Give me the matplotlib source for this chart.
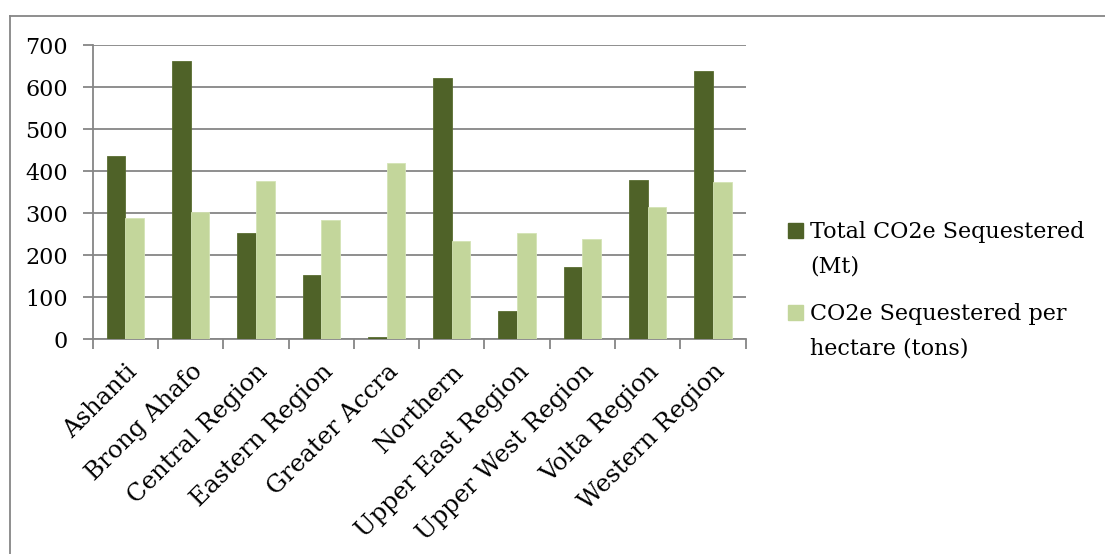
import matplotlib.pyplot as plt
from matplotlib.lines import Line2D
from matplotlib.patches import Rectangle
import numpy as np

regions = ['Ashanti', 'Brong Ahafo', 'Central Region', 'Eastern Region',
           'Greater Accra', 'Northern', 'Upper East Region',
           'Upper West Region', 'Volta Region', 'Western Region']
total_mt = [437, 662, 254, 153, 5, 622, 67, 172, 378, 639]
per_hectare = [288, 302, 377, 285, 420, 233, 253, 238, 315, 375]

dark = '#4f6228'
light = '#c3d69b'
grid_col = '#868686'

plt.rcParams['font.family'] = ['DejaVu Serif']

W, H = 1105, 554
fig = plt.figure(figsize=(W / 100, H / 100), dpi=100)
ax = fig.add_axes([0.0839, 0.388, 0.5909, 0.530])

x = np.arange(len(regions))
w = 1 / 3.5
ax.bar(x - w/2, total_mt, w, color=dark, edgecolor='#5a6e32', linewidth=0.6, zorder=3)
ax.bar(x + w/2, per_hectare, w, color=light, edgecolor='#d4e3b5', linewidth=0.6, zorder=3)

ax.set_xlim(-0.5, len(regions) - 0.5)
ax.set_ylim(0, 700)
ax.set_yticks(range(0, 701, 100))
ax.yaxis.grid(True, color=grid_col, linewidth=1.3, zorder=0)
for s in ['top', 'right']:
    ax.spines[s].set_visible(False)
for s in ['left', 'bottom']:
    ax.spines[s].set_color(grid_col)
    ax.spines[s].set_linewidth(1.3)

ax.set_xticks(x)
ax.set_xticklabels(regions, rotation=45, ha='right', rotation_mode='anchor',
                   fontsize=17.5)
ax.tick_params(axis='x', length=0, pad=15)
ax.set_xticks(np.arange(-0.5, len(regions)), minor=True)
ax.tick_params(axis='x', which='minor', length=7, color=grid_col, width=1.3)
ax.tick_params(axis='y', length=7, color=grid_col, width=1.3, labelsize=16, pad=11)

# legend drawn by hand so each swatch sits beside the first text line
entries = [(dark, 'Total CO2e Sequestered\n(Mt)', 223, 273),
           (light, 'CO2e Sequestered per\nhectare (tons)', 305, 355)]
for col, label, sq_top, base in entries:
    fig.patches.append(Rectangle((788 / W, 1 - (sq_top + 15) / H), 15 / W, 15 / H,
                                 transform=fig.transFigure, color=col))
    fig.text(810 / W, 1 - base / H, label, fontsize=16, va='baseline',
             linespacing=1.78)

# outer chart frame: top and left edges
fig.add_artist(Line2D([10 / W, 1], [1 - 16 / H, 1 - 16 / H],
                      transform=fig.transFigure, color=grid_col, linewidth=1.3))
fig.add_artist(Line2D([10 / W, 10 / W], [0, 1 - 16 / H],
                      transform=fig.transFigure, color=grid_col, linewidth=1.3))

fig.savefig('out.png', dpi=100)
